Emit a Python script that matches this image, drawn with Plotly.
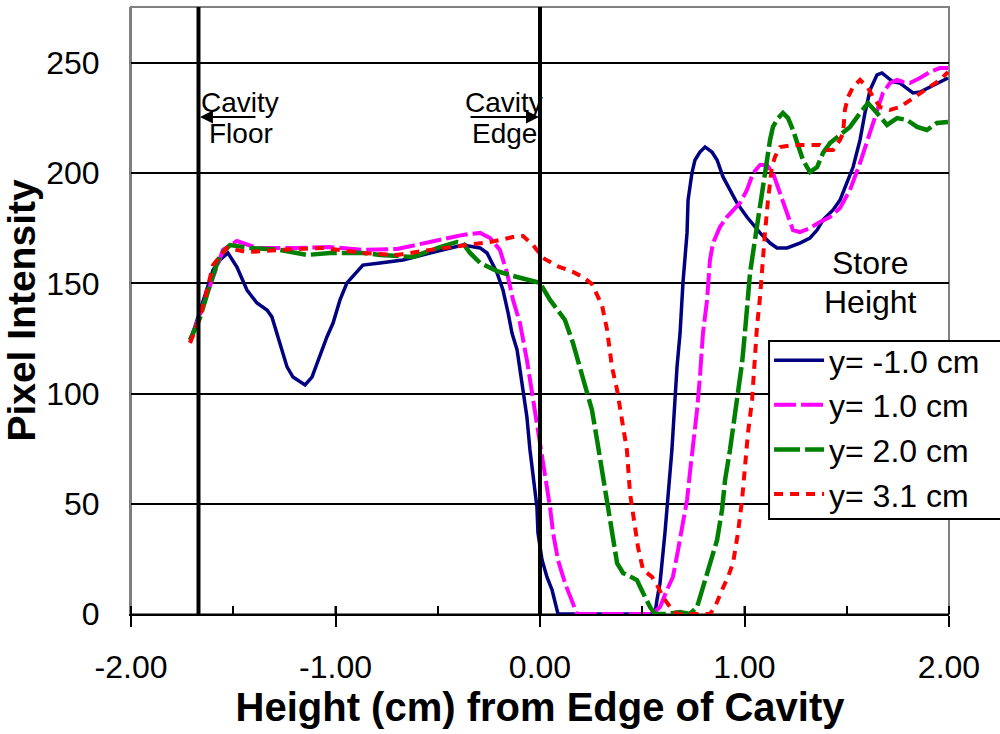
import plotly.graph_objects as go

# ---------------- data ----------------
x_neg10 = [-1.711, -1.648, -1.599, -1.565, -1.526, -1.482, -1.433, -1.384, -1.335, -1.311,
           -1.286, -1.262, -1.237, -1.208, -1.149, -1.115, -1.086, -1.042, -1.012, -0.978,
           -0.944, -0.866, -0.782, -0.670, -0.538, -0.406, -0.377, -0.293, -0.259, -0.210,
           -0.181, -0.156, -0.137, -0.112, -0.098, -0.083, -0.064, -0.049, -0.034, -0.015,
           -0.010, 0.010, 0.034, 0.059, 0.088, 0.562, 0.572, 0.587, 0.611, 0.626,
           0.645, 0.660, 0.670, 0.685, 0.699, 0.719, 0.724, 0.743, 0.758, 0.782,
           0.807, 0.841, 0.866, 0.895, 0.929, 0.963, 1.012, 1.076, 1.125, 1.159,
           1.208, 1.271, 1.320, 1.355, 1.384, 1.433, 1.467, 1.501, 1.531, 1.565,
           1.589, 1.614, 1.648, 1.672, 1.697, 1.726, 1.760, 1.795, 1.824, 1.858,
           1.907, 1.956, 1.995]
y_neg10 = [123.4, 142.5, 156.1, 160.6, 163.8, 157.4, 147.0, 141.1, 137.9, 134.8,
           127.5, 119.8, 112.1, 107.5, 103.9, 107.5, 115.2, 125.7, 132.0, 142.5,
           150.2, 158.3, 159.3, 160.6, 163.8, 166.5, 167.4, 166.1, 163.8, 154.7,
           147.0, 136.6, 127.5, 119.8, 110.7, 101.6, 89.4, 74.4, 62.2, 48.5,
           36.8, 24.5, 16.8, 10.9, 0.0, 0.0, 6.4, 14.1, 36.8, 51.7,
           74.4, 97.1, 112.1, 127.5, 150.2, 172.9, 187.8, 200.1, 206.0, 209.6,
           211.9, 209.6, 206.0, 198.3, 192.4, 186.5, 180.1, 172.9, 168.3, 166.1,
           166.1, 168.3, 170.6, 174.2, 178.8, 183.3, 187.8, 195.6, 202.8, 215.1,
           227.3, 237.7, 244.6, 245.5, 243.6, 241.4, 240.9, 238.7, 236.4, 236.8,
           239.1, 241.4, 243.2]

x_pos10 = [-1.711, -1.663, -1.604, -1.550, -1.482, -1.384, -1.188, -1.027, -0.866, -0.699,
           -0.538, -0.377, -0.293, -0.244, -0.196, -0.161, -0.132, -0.098, -0.064, -0.034,
           -0.010, 0.015, 0.034, 0.049, 0.064, 0.088, 0.122, 0.156, 0.181, 0.548,
           0.587, 0.621, 0.650, 0.675, 0.699, 0.719, 0.733, 0.748, 0.768, 0.782,
           0.797, 0.817, 0.831, 0.846, 0.880, 0.914, 0.944, 0.978, 1.012, 1.042,
           1.076, 1.110, 1.139, 1.174, 1.208, 1.237, 1.271, 1.320, 1.369, 1.418,
           1.467, 1.516, 1.565, 1.614, 1.648, 1.677, 1.711, 1.746, 1.775, 1.809,
           1.858, 1.907, 1.956, 1.995]
y_pos10 = [124.3, 135.7, 151.5, 165.2, 169.2, 166.1, 166.1, 166.5, 165.2, 165.6,
           168.8, 172.0, 172.9, 170.6, 165.2, 154.7, 142.5, 132.0, 115.2, 97.1,
           84.8, 69.9, 57.6, 48.5, 36.8, 24.5, 14.1, 6.4, 0.0, 0.0,
           3.2, 10.9, 16.8, 29.0, 41.3, 51.7, 64.0, 75.8, 92.6, 107.5,
           127.5, 142.5, 160.6, 168.3, 175.6, 180.1, 183.3, 186.5, 192.4, 200.1,
           203.7, 203.7, 200.1, 191.0, 181.9, 174.2, 173.3, 175.1, 177.9, 180.1,
           184.2, 192.4, 204.6, 218.2, 227.3, 236.4, 240.9, 242.3, 241.4, 240.9,
           243.2, 245.9, 247.7, 247.7]

x_pos20 = [-1.711, -1.663, -1.614, -1.565, -1.516, -1.418, -1.271, -1.139, -1.027, -0.866,
           -0.782, -0.621, -0.489, -0.406, -0.377, -0.342, -0.293, -0.210, -0.132, -0.049,
           0.000, 0.049, 0.098, 0.122, 0.161, 0.196, 0.230, 0.254, 0.279, 0.303,
           0.328, 0.342, 0.357, 0.377, 0.406, 0.440, 0.474, 0.504, 0.538, 0.562,
           0.621, 0.685, 0.733, 0.768, 0.797, 0.831, 0.866, 0.890, 0.905, 0.929,
           0.944, 0.968, 0.988, 1.002, 1.017, 1.027, 1.051, 1.076, 1.090, 1.110,
           1.125, 1.139, 1.164, 1.188, 1.213, 1.237, 1.262, 1.286, 1.320, 1.355,
           1.384, 1.418, 1.467, 1.516, 1.565, 1.604, 1.648, 1.697, 1.746, 1.795,
           1.844, 1.892, 1.941, 1.995]
y_pos20 = [124.3, 134.3, 149.3, 162.9, 167.4, 166.1, 165.2, 162.9, 163.8, 163.8,
           162.9, 162.0, 166.5, 168.8, 168.3, 163.8, 159.3, 155.6, 153.4, 151.5,
           150.2, 142.5, 136.6, 133.4, 123.0, 112.1, 101.6, 92.6, 78.9, 65.3,
           51.7, 42.6, 33.6, 23.1, 18.6, 16.8, 15.4, 9.5, 3.2, 0.0,
           0.0, 0.9, 0.0, 3.2, 12.3, 21.3, 33.6, 47.2, 60.8, 74.4,
           84.8, 100.3, 113.9, 127.5, 142.5, 154.7, 169.7, 184.7, 195.6, 204.6,
           215.1, 221.0, 225.0, 227.3, 225.0, 219.6, 211.9, 206.0, 200.5, 202.8,
           209.2, 213.7, 217.3, 221.0, 227.3, 231.8, 227.3, 221.9, 225.0, 224.1,
           221.0, 219.6, 222.8, 223.2]

x_pos31 = [-1.711, -1.663, -1.628, -1.599, -1.531, -1.433, -1.271, -1.061, -0.866, -0.699,
           -0.538, -0.377, -0.244, -0.132, -0.083, -0.034, 0.015, 0.083, 0.161, 0.210,
           0.254, 0.284, 0.303, 0.328, 0.352, 0.377, 0.401, 0.425, 0.440, 0.465,
           0.479, 0.504, 0.548, 0.577, 0.601, 0.636, 0.670, 0.831, 0.856, 0.890,
           0.919, 0.944, 0.968, 0.988, 1.002, 1.017, 1.037, 1.042, 1.061, 1.076,
           1.086, 1.100, 1.115, 1.134, 1.149, 1.174, 1.237, 1.369, 1.403, 1.433,
           1.467, 1.482, 1.491, 1.506, 1.531, 1.565, 1.604, 1.628, 1.663, 1.711,
           1.760, 1.809, 1.858, 1.907, 1.956, 1.995]
y_pos31 = [123.0, 134.3, 147.0, 158.3, 166.1, 164.2, 165.2, 166.1, 163.8, 162.9,
           165.2, 167.4, 168.8, 171.0, 171.5, 167.4, 161.5, 157.9, 155.2, 152.9,
           149.7, 143.8, 140.2, 128.9, 112.1, 101.6, 88.0, 74.4, 54.9, 39.5,
           30.4, 20.0, 16.8, 12.3, 7.7, 3.2, 0.0, 0.0, 3.2, 10.9,
           16.8, 23.1, 36.8, 51.7, 66.7, 82.1, 97.1, 104.8, 130.2, 143.8,
           157.4, 172.9, 187.8, 202.8, 207.4, 211.9, 212.8, 212.8, 210.5, 210.5,
           215.1, 218.2, 228.7, 234.6, 239.1, 242.3, 238.7, 234.6, 230.0, 228.7,
           230.0, 233.2, 236.4, 239.1, 242.3, 245.9]

series_names = ["y= -1.0 cm", "y= 1.0 cm", "y= 2.0 cm", "y= 3.1 cm"]
series_x = [x_neg10, x_pos10, x_pos20, x_pos31]
series_y = [y_neg10, y_pos10, y_pos20, y_pos31]
series_colors = ["#000080", "#FF00FF", "#008000", "#FF0000"]
series_widths = [3.5, 4, 4.5, 4]
series_dash = ["solid", "22px,5px", "26px,5px", "9px,7px"]

marker_lines_x = [-1.67, 0.0]          # cavity floor, cavity edge
x_tick_vals = [-2, -1, 0, 1, 2]
x_tick_text = ["-2.00", "-1.00", "0.00", "1.00", "2.00"]
y_tick_vals = [0, 50, 100, 150, 200, 250]
x_range = [-2, 2]
y_range = [0, 275.4]

FONT = "Arial, Liberation Sans, sans-serif"

fig = go.Figure()
for name, xs, ys, c, w, d in zip(series_names, series_x, series_y, series_colors,
                                 series_widths, series_dash):
    fig.add_trace(go.Scatter(x=xs, y=ys, mode="lines", name=name, legendgroup=name,
                             line=dict(color=c, width=w, dash=d)))

shapes = []
# plot-area border (gray)
shapes.append(dict(type="rect", xref="paper", yref="paper", x0=0, x1=1, y0=0, y1=1,
                   line=dict(color="#808080", width=2), layer="below"))
# vertical reference lines
for xv in marker_lines_x:
    shapes.append(dict(type="line", xref="x", yref="paper", x0=xv, x1=xv, y0=0, y1=1,
                       line=dict(color="black", width=4)))
# inside part of the crossing major ticks
for xv in x_tick_vals:
    shapes.append(dict(type="line", xref="x", yref="paper", x0=xv, x1=xv, y0=0, y1=8 / 607,
                       line=dict(color="black", width=2)))
# legend frame (white box with black border behind the legend entries)
shapes.append(dict(type="rect", xref="paper", yref="paper", x0=0.780, x1=1.07,
                   y0=0.1565, y1=0.4498, fillcolor="white",
                   line=dict(color="black", width=2), layer="above"))

annotations = []
def txt(x, y, t, size=27):
    annotations.append(dict(x=x, y=y, xref="x", yref="y", text=t, showarrow=False,
                            xanchor="center", yanchor="middle",
                            font=dict(family=FONT, size=size, color="black")))

txt(-1.467, 231.9, "Cavity", 28)
txt(-1.462, 217.8, "Floor", 28)
txt(-0.176, 231.9, "Cavity", 28)
txt(-0.176, 217.8, "Edge", 28)
txt(1.614, 159.3, "Store", 32)
txt(1.614, 141.6, "Height", 32)

# arrows
annotations.append(dict(x=-1.663, y=225.5, ax=-1.384, ay=225.5, xref="x", yref="y",
                        axref="x", ayref="y", text="", showarrow=True, arrowhead=2,
                        arrowsize=1.3, arrowwidth=2, arrowcolor="black"))
annotations.append(dict(x=-0.005, y=225.5, ax=-0.347, ay=225.5, xref="x", yref="y",
                        axref="x", ayref="y", text="", showarrow=True, arrowhead=2,
                        arrowsize=1.3, arrowwidth=2, arrowcolor="black"))

fig.update_layout(
    width=1000, height=734,
    margin=dict(l=131, r=51, t=7, b=120, autoexpand=False),
    paper_bgcolor="white", plot_bgcolor="white",
    font=dict(family=FONT, color="black"),
    shapes=shapes, annotations=annotations,
    legend=dict(x=0.78, y=0.4630, xanchor="left", yanchor="top",
                bgcolor="rgba(0,0,0,0)", borderwidth=0,
                font=dict(family=FONT, size=32, color="black"),
                traceorder="grouped", tracegroupgap=0, itemwidth=50),
    showlegend=True,
)

fig.update_xaxes(range=x_range, tickvals=x_tick_vals, ticktext=x_tick_text,
                 showgrid=False, zeroline=False,
                 showline=True, linecolor="black", linewidth=2,
                 ticks="outside", ticklen=11, tickwidth=2, tickcolor="black",
                 ticklabelstandoff=13,
                 minor=dict(dtick=0.5, tick0=0, ticks="inside", ticklen=8, tickwidth=2,
                            tickcolor="black", showgrid=False),
                 tickfont=dict(family=FONT, size=32, color="black"),
                 title=dict(text="<b>Height (cm) from Edge of Cavity</b>", standoff=6,
                            font=dict(family=FONT, size=40, color="black")))

fig.update_yaxes(range=y_range, tickvals=y_tick_vals,
                 showgrid=True, gridcolor="black", gridwidth=1.5, zeroline=False,
                 showline=True, linecolor="#808080", linewidth=2,
                 ticks="", ticklabelstandoff=23,
                 tickfont=dict(family=FONT, size=32, color="black"),
                 title=dict(text="<b>Pixel Intensity</b>", standoff=9,
                            font=dict(family=FONT, size=39, color="black")))

fig.write_html("out.html")
